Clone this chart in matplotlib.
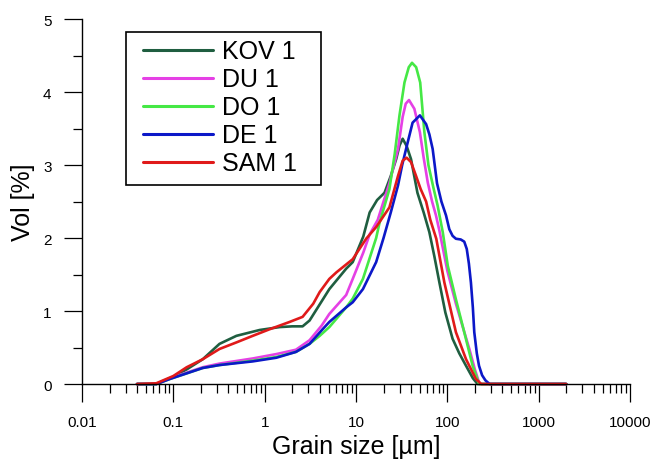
import matplotlib
matplotlib.use("Agg")
import matplotlib.pyplot as plt
from matplotlib.patches import Rectangle
from matplotlib.ticker import FixedLocator, NullFormatter

plt.rcParams["font.family"] = ["Liberation Sans", "DejaVu Sans"]

# grain size distributions (x in um, y in vol %)
kov_x = [0.04, 0.065, 0.1, 0.14, 0.21, 0.32, 0.49, 0.88, 1.46, 2.0, 2.6, 3.1, 4.0, 5.1, 7.8, 9.2,
         12, 14.1, 17, 20.5, 24, 27.5, 30, 32.4, 35.8, 40, 47, 55, 63.5, 72, 81.8, 95, 114, 135, 160,
         190, 214, 2000]
kov_y = [0, 0, 0.10, 0.20, 0.34, 0.55, 0.66, 0.74, 0.78, 0.79, 0.79, 0.87, 1.09, 1.30, 1.58, 1.67,
         2.02, 2.35, 2.52, 2.62, 2.85, 3.08, 3.27, 3.36, 3.26, 3.08, 2.62, 2.35, 2.08, 1.75, 1.39, 0.98,
         0.62, 0.42, 0.25, 0.08, 0, 0]

du_x = [0.04, 0.065, 0.092, 0.21, 0.32, 0.74, 1.34, 2.2, 3.1, 4.2, 5.1, 7.8, 9.2, 12, 14.1, 17.3,
        20, 23.2, 28.8, 32.4, 35, 38, 43.5, 50, 55, 61, 68, 75, 81.8, 100, 124, 150, 174, 200, 225, 2000]
du_y = [0, 0, 0.08, 0.23, 0.28, 0.35, 0.41, 0.47, 0.60, 0.80, 0.96, 1.22, 1.44, 1.80, 2.05, 2.25,
        2.50, 2.75, 3.22, 3.66, 3.84, 3.89, 3.77, 3.45, 3.10, 2.76, 2.50, 2.31, 2.10, 1.55, 1.10, 0.75,
        0.48, 0.20, 0, 0]

do_x = [0.04, 0.065, 0.092, 0.21, 0.32, 0.74, 1.34, 2.2, 3.1, 4.0, 5.1, 7.8, 9.2, 11.9, 16.6, 18.1,
        23.2, 26.5, 29.9, 33.9, 37.8, 41, 45.5, 50.4, 56, 62, 70, 78, 89, 101, 124, 153, 189, 222, 2000]
do_y = [0, 0, 0.07, 0.22, 0.26, 0.32, 0.37, 0.44, 0.55, 0.66, 0.78, 1.05, 1.17, 1.44, 2.00, 2.21,
        2.67, 3.15, 3.68, 4.13, 4.34, 4.40, 4.34, 4.13, 3.45, 3.00, 2.70, 2.45, 2.08, 1.62, 1.16, 0.71,
        0.25, 0, 0]

de_x = [0.04, 0.065, 0.092, 0.21, 0.32, 0.74, 1.34, 2.2, 3.1, 4.3, 5.1, 7.8, 9.2, 11.9, 16.6, 20,
        24, 28.8, 32, 35.3, 41.6, 50, 58.5, 63.5, 69, 77, 86, 96.6, 105, 114, 124, 140, 153, 163, 172,
        181, 190, 197, 210, 222, 240, 261, 290, 2000]
de_y = [0, 0, 0.07, 0.22, 0.26, 0.31, 0.36, 0.44, 0.55, 0.75, 0.85, 1.05, 1.12, 1.30, 1.67, 2.00,
        2.35, 2.72, 3.00, 3.22, 3.58, 3.68, 3.56, 3.42, 3.22, 2.75, 2.50, 2.31, 2.12, 2.03, 1.99, 1.98,
        1.95, 1.85, 1.65, 1.39, 1.05, 0.71, 0.42, 0.25, 0.12, 0.05, 0, 0]

sam_x = [0.04, 0.065, 0.1, 0.14, 0.21, 0.32, 0.49, 0.74, 1.13, 1.87, 2.6, 3.4, 4.0, 5.1, 6.1, 9.2,
         12.9, 16.6, 23.2, 28.8, 32.4, 35.8, 40, 45.4, 51, 58.5, 65, 75.6, 92.7, 124, 160, 205, 235, 2000]
sam_y = [0, 0.01, 0.11, 0.23, 0.34, 0.48, 0.57, 0.66, 0.75, 0.85, 0.92, 1.10, 1.26, 1.44, 1.53, 1.71,
         1.99, 2.15, 2.42, 2.85, 3.06, 3.10, 3.04, 2.85, 2.67, 2.50, 2.25, 1.99, 1.39, 0.71, 0.34, 0.07,
         0, 0]

series = [
    ("KOV 1", kov_x, kov_y, "#1f5e40"),
    ("DU 1", du_x, du_y, "#e540e5"),
    ("DO 1", do_x, do_y, "#45e845"),
    ("DE 1", de_x, de_y, "#0c18c8"),
    ("SAM 1", sam_x, sam_y, "#e01a1a"),
]

xtick_vals = [0.01, 0.1, 1, 10, 100, 1000, 10000]
xtick_labels = ["0.01", "0.1", "1", "10", "100", "1000", "10000"]

fig = plt.figure(figsize=(6.54, 4.6), dpi=100)
ax = fig.add_axes([0.1254, 0.163, 0.838, 0.7935])

for name, xs, ys, col in series:
    ax.plot(xs, ys, color=col, lw=1.9, label=name, clip_on=False,
            solid_joinstyle="round", solid_capstyle="round")

ax.set_xscale("log")
ax.set_xlim(0.01, 10000)
ax.set_ylim(0, 5)

for side in ["top", "right"]:
    ax.spines[side].set_visible(False)
for side in ["left", "bottom"]:
    ax.spines[side].set_linewidth(1.0)

ax.set_xticks(xtick_vals)
ax.set_xticklabels(xtick_labels)
minors = [m * 10.0 ** e for e in range(-2, 4) for m in range(2, 10)]
ax.xaxis.set_minor_locator(FixedLocator(minors))
ax.xaxis.set_minor_formatter(NullFormatter())
ax.set_yticks([0, 1, 2, 3, 4, 5])
ax.yaxis.set_minor_locator(FixedLocator([0.5, 1.5, 2.5, 3.5, 4.5]))

ax.tick_params(which="major", direction="out", length=13, width=0.9, labelsize=11, pad=9)
ax.tick_params(which="minor", direction="out", length=6.5, width=0.9)

ax.set_xlabel("Grain size [\u00b5m]", fontsize=18, labelpad=4)
ax.set_ylabel("Vol [%]", fontsize=18, labelpad=6)

# legend box drawn by hand so the padding matches the original
ax.add_patch(Rectangle((0.080, 0.545), 0.356, 0.419, transform=ax.transAxes,
                       fill=False, edgecolor="black", lw=1.2, clip_on=False, zorder=5))
leg = ax.legend(loc="upper left", bbox_to_anchor=(0.111, 0.944), borderaxespad=0,
                fontsize=18, frameon=False, labelspacing=0.16,
                handlelength=2.8, handletextpad=0.36, borderpad=0)
for line in leg.get_lines():
    line.set_linewidth(2.2)

fig.savefig("out.png", dpi=100)
